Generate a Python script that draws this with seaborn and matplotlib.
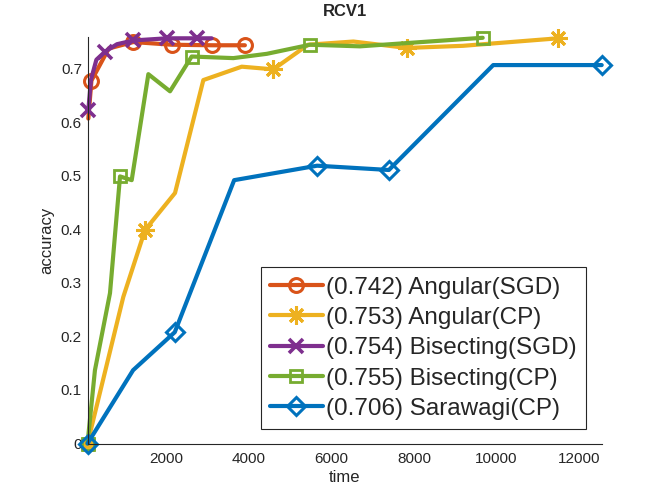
import numpy as np
import pandas as pd
import matplotlib
matplotlib.use("Agg")
import matplotlib.pyplot as plt
import seaborn as sns

# values (time, accuracy)
ang_sgd_t = [105, 180, 600, 1195, 2125, 3110, 3900]
ang_sgd_acc = [0.607, 0.678, 0.738, 0.750, 0.745, 0.744, 0.744]
ang_sgd_marks = [1, 3, 4, 5, 6]

ang_cp_t = [85, 953, 1480, 2206, 2893, 3823, 4590, 5430, 6530, 7823, 9190, 11490]
ang_cp_acc = [0.0, 0.274, 0.399, 0.468, 0.679, 0.704, 0.699, 0.745, 0.751, 0.739, 0.743, 0.757]
ang_cp_marks = [0, 2, 6, 9, 11]

bis_sgd_t = [105, 170, 300, 510, 800, 1195, 2005, 2730, 3095]
bis_sgd_acc = [0.623, 0.680, 0.717, 0.732, 0.746, 0.753, 0.757, 0.757, 0.757]
bis_sgd_marks = [0, 3, 5, 6, 7]

bis_cp_t = [85, 265, 630, 873, 1156, 1560, 2085, 2610, 3620, 4430, 5480, 6690, 9665]
bis_cp_acc = [0.0, 0.137, 0.281, 0.499, 0.492, 0.690, 0.658, 0.723, 0.720, 0.728, 0.745, 0.742, 0.758]
bis_cp_marks = [0, 3, 7, 10, 12]

sar_cp_t = [85, 1190, 2200, 3640, 5650, 7390, 9920, 12550]
sar_cp_acc = [0.0, 0.137, 0.208, 0.492, 0.519, 0.511, 0.707, 0.707]
sar_cp_marks = [0, 2, 4, 5, 7]

labels = ["(0.742) Angular(SGD)", "(0.753) Angular(CP)", "(0.754) Bisecting(SGD)",
          "(0.755) Bisecting(CP)", "(0.706) Sarawagi(CP)"]
colors = ["#D95319", "#EDB120", "#7E2F8E", "#77AC30", "#0072BD"]

sns.set_style("white")
plt.rcParams['font.family'] = ['Liberation Sans', 'DejaVu Sans']

fig = plt.figure(figsize=(6.64, 4.98), dpi=100)
ax = fig.add_axes([0.1318, 0.1094, 0.7744, 0.8169])

series = [
    (ang_sgd_t, ang_sgd_acc, ang_sgd_marks, "o", 10, 2.2),
    (ang_cp_t, ang_cp_acc, ang_cp_marks, (8, 2, 0), 13, 2.2),
    (bis_sgd_t, bis_sgd_acc, bis_sgd_marks, "x", 10, 2.6),
    (bis_cp_t, bis_cp_acc, bis_cp_marks, "s", 8.5, 2.0),
    (sar_cp_t, sar_cp_acc, sar_cp_marks, "D", 9, 2.2),
]

for (t, acc, marks, mk, ms, mew), lab, col in zip(series, labels, colors):
    df = pd.DataFrame({"time": t, "accuracy": acc})
    sns.lineplot(data=df, x="time", y="accuracy", ax=ax, sort=False, estimator=None,
                 color=col, linewidth=3, label=lab, marker=mk, markersize=ms,
                 markevery=marks, markerfacecolor="none", markeredgecolor=col,
                 markeredgewidth=mew, clip_on=False)

ax.set_xlim(85, 12550)
ax.set_ylim(0, 0.76)
ax.set_xticks([2000, 4000, 6000, 8000, 10000, 12000])
yt = [0, 0.1, 0.2, 0.3, 0.4, 0.5, 0.6, 0.7]
ax.set_yticks(yt)
ax.set_yticklabels(["0"] + [f"{v:.1f}" for v in yt[1:]])
ax.tick_params(direction="in", length=5, width=0.8, labelsize=11, colors="#262626")
ax.tick_params(axis="x", pad=6)
ax.tick_params(axis="y", pad=4)
for s in ["top", "right"]:
    ax.spines[s].set_visible(False)
for s in ["left", "bottom"]:
    ax.spines[s].set_color("#262626")
    ax.spines[s].set_linewidth(0.8)

ax.set_xlabel("time", fontsize=12, color="#262626", labelpad=3)
ax.set_ylabel("accuracy", fontsize=12, color="#262626", labelpad=5)
ax.set_title("RCV1", fontsize=12, fontweight="bold", pad=15)

leg = ax.legend(loc="lower right", bbox_to_anchor=(0.9695, 0.0356), fontsize=17.5,
                handlelength=2.15, handletextpad=0.15, labelspacing=0.34,
                borderpad=0.38, borderaxespad=0, fancybox=False, framealpha=1)
leg.get_frame().set_edgecolor("#262626")
leg.get_frame().set_linewidth(0.8)
for h in leg.legend_handles:
    h.set_clip_on(False)

fig.savefig("out.png", dpi=100)
